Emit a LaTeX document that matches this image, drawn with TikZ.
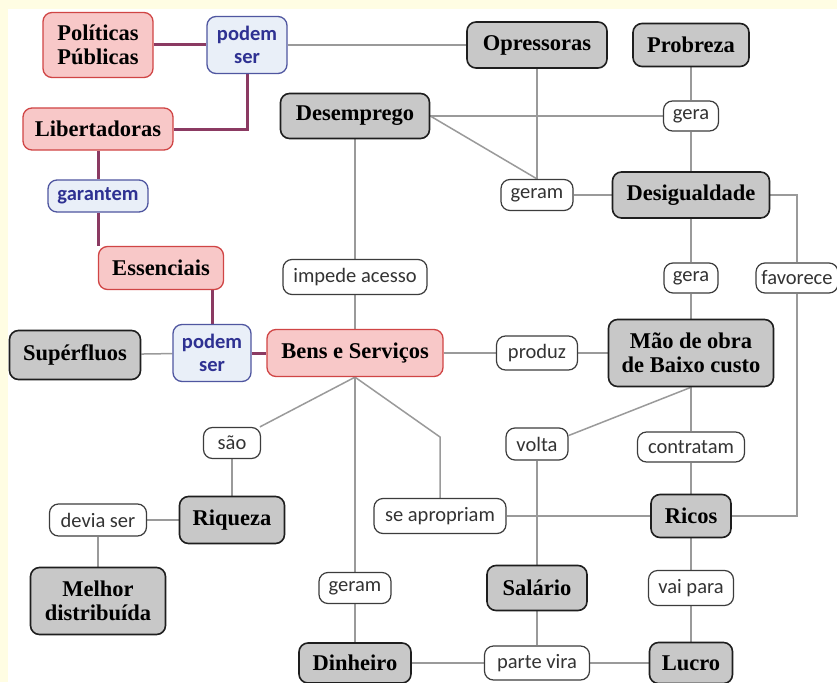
\documentclass[tikz,border=0pt]{standalone}
\usepackage{fontspec}
\setmainfont{Liberation Serif}
\newfontfamily\linkfont{Carlito}
\usetikzlibrary{backgrounds}
\definecolor{bgyellow}{HTML}{FFFDE3}
\definecolor{redfill}{HTML}{F8C8C8}
\definecolor{redline}{HTML}{D04545}
\definecolor{bluefill}{HTML}{E9EFF8}
\definecolor{blueline}{HTML}{4F56A0}
\definecolor{bluetext}{HTML}{2E3192}
\definecolor{greyfill}{HTML}{C8C8C8}
\definecolor{greyline}{HTML}{1E1E1E}
\definecolor{linkline}{HTML}{3C3C3C}
\definecolor{linktext}{HTML}{333333}
\definecolor{conn}{HTML}{9A9A9A}
\definecolor{purp}{HTML}{8B3A62}
\tikzset{
  base/.style={rounded corners=9pt, align=center, inner sep=1pt},
  conc/.style={base, font=\fontsize{22.5}{23.5}\selectfont\bfseries, text=black},
  redc/.style={conc, draw=redline, fill=redfill, line width=1.3pt},
  greyc/.style={conc, draw=greyline, fill=greyfill, line width=1.6pt},
  bluel/.style={base, font=\linkfont\fontsize{20.5}{23}\selectfont\bfseries, text=bluetext, draw=blueline, fill=bluefill, line width=1.3pt},
  whitel/.style={base, font=\linkfont\fontsize{20.5}{23}\selectfont, text=linktext, draw=linkline, fill=white, line width=1.2pt},
  sz/.style 2 args={minimum width=#1pt, minimum height=#2pt},
  pline/.style={draw=purp, line width=3pt},
  gline/.style={draw=conn, line width=1.5pt}
}
\begin{document}
\begin{tikzpicture}[x=1pt,y=-1pt]
\useasboundingbox (0,0) rectangle (837,682);
% nodes
\node[redc, sz={110}{65}] (pp) at (98,45) {Políticas\\Públicas};
\node[bluel, sz={80}{57}] (ps1) at (247,45) {podem\\ser};
\node[greyc, sz={140}{46}] (opr) at (537,45) {Opressoras};
\node[greyc, sz={116}{43}] (pob) at (691,45) {Probreza};
\node[redc, sz={150}{42}] (lib) at (98,129) {Libertadoras};
\node[greyc, sz={149}{45}] (des) at (355,116) {Desemprego};
\node[whitel, sz={55}{30}] (gera1) at (691,116) {gera};
\node[whitel, sz={72}{31}] (geram1) at (537,195) {geram};
\node[greyc, sz={157}{46}] (desig) at (691,195) {Desigualdade};
\node[bluel, sz={100}{32}] (gar) at (98,196) {garantem};
\node[redc, sz={125}{43}] (ess) at (161,268) {Essenciais};
\node[whitel, sz={144}{35}] (imp) at (355,277) {impede acesso};
\node[whitel, sz={54}{30}] (gera2) at (691,278) {gera};
\node[whitel, sz={82}{30}] (fav) at (797,278) {favorece};
\node[greyc, sz={131}{49}] (sup) at (75,355) {Supérfluos};
\node[bluel, sz={78}{57}] (ps2) at (212,353) {podem\\ser};
\node[redc, sz={176}{47}] (bens) at (355,353) {Bens e Serviços};
\node[whitel, sz={81}{34}] (prod) at (537,353) {produz};
\node[greyc, sz={165}{67}] (mao) at (691,353) {Mão de obra\\de Baixo custo};
\node[whitel, sz={57}{31}] (sao) at (232,443) {são};
\node[whitel, sz={62}{32}] (volta) at (537,444) {volta};
\node[whitel, sz={107}{30}] (contr) at (691,447) {contratam};
\node[greyc, sz={105}{47}] (ric) at (232,520) {Riqueza};
\node[whitel, sz={97}{32}] (devia) at (98,520) {devia ser};
\node[whitel, sz={132}{35}] (seap) at (440,516) {se apropriam};
\node[greyc, sz={80}{43}] (ricos) at (691,516) {Ricos};
\node[greyc, sz={135}{67}] (mel) at (98,601) {Melhor\\distribuída};
\node[whitel, sz={72}{31}] (geram2) at (355,588) {geram};
\node[greyc, sz={100}{45}] (sal) at (537,588) {Salário};
\node[whitel, sz={85}{35}] (vai) at (691,588) {vai para};
\node[greyc, sz={112}{40}] (din) at (355,663) {Dinheiro};
\node[whitel, sz={105}{34}] (parte) at (537,663) {parte vira};
\node[greyc, sz={83}{41}] (lucro) at (691,663) {Lucro};
\coordinate (bend) at (440,437);
\begin{scope}[on background layer]
\fill[bgyellow] (0,0) rectangle (837,682);
\fill[white] (8,9) rectangle (837,682);
% purple connectors
\draw[pline] (pp.east) -- (ps1.west);
\draw[pline] (ps1.south) |- (lib.east);
\draw[pline] (lib) -- (gar);
\draw[pline] (gar.south) -- (gar.south |- ess.north);
\draw[pline] (ess.south -| ps2.north) -- (ps2.north);
\draw[pline] (ps2.east) -- (bens.west);
% grey connectors
\draw[gline] (ps1.east) -- (opr.west);
\draw[gline] (opr) -- (geram1);
\draw[gline] (des.east) -- (gera1.west);
\draw[gline] (des.east) -- (geram1.north);
\draw[gline] (geram1) -- (desig);
\draw[gline] (pob) -- (gera1);
\draw[gline] (gera1) -- (desig);
\draw[gline] (desig) -- (gera2);
\draw[gline] (gera2) -- (mao);
\draw[gline] (desig.east) -| (fav.north);
\draw[gline] (fav.south) |- (ricos.east);
\draw[gline] (des) -- (imp);
\draw[gline] (imp) -- (bens);
\draw[gline] (sup) -- (ps2);
\draw[gline] (bens) -- (prod);
\draw[gline] (prod) -- (mao);
\draw[gline] (mao) -- (contr);
\draw[gline] (contr) -- (ricos);
\draw[gline] (ricos) -- (vai);
\draw[gline] (vai) -- (lucro);
\draw[gline] (mao.south) -- (volta.15);
\draw[gline] (volta) -- (sal);
\draw[gline] (sal) -- (parte);
\draw[gline] (din) -- (parte);
\draw[gline] (parte) -- (lucro);
\draw[gline] (bens.south) -- (sao.30);
\draw[gline] (bens) -- (geram2);
\draw[gline] (geram2) -- (din);
\draw[gline] (bens.south) -- (bend) -- (seap.north);
\draw[gline] (sao) -- (ric);
\draw[gline] (ric) -- (devia);
\draw[gline] (devia) -- (mel);
\draw[gline] (seap) -- (ricos);
\end{scope}
\end{tikzpicture}
\end{document}
